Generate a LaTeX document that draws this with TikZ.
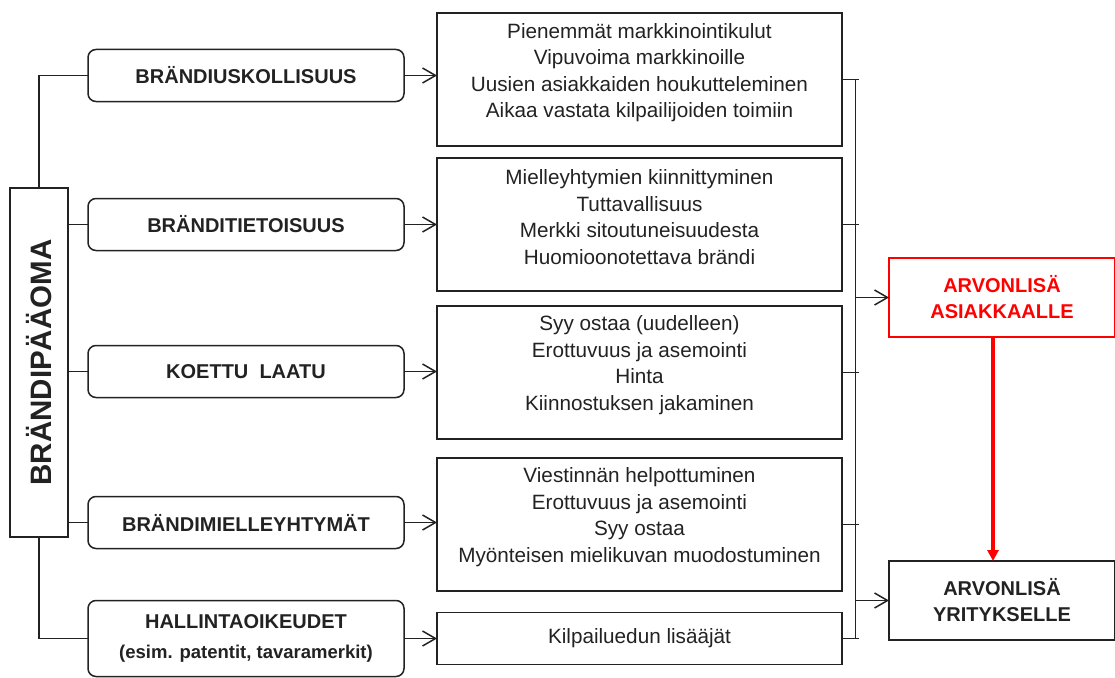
\documentclass[tikz,border=0pt]{standalone}
\usepackage{fontspec}
\setmainfont{Liberation Sans}
\usetikzlibrary{arrows.meta,calc}
\definecolor{ink}{HTML}{222222}
\definecolor{alert}{HTML}{FF0000}

\begin{document}
\begin{tikzpicture}[x=1pt,y=-1pt,
  every node/.style={inner sep=0pt, outer sep=0pt, text=ink},
  frame/.style={draw=ink, line width=1.5pt},
  conn/.style={draw=ink, line width=1.6pt},
  barb/.style={conn, -{Straight Barb[length=13pt,width=15pt,line width=1.5pt]}},
  driver/.style={frame, rounded corners=8pt, minimum width=316pt, minimum height=52pt,
    font=\fontsize{20}{26}\selectfont\bfseries, align=center},
  effect/.style={frame, minimum width=405pt, minimum height=133pt},
  effecttext/.style={font=\fontsize{20.7}{26.5}\selectfont, align=center},
  valuebox/.style={frame, minimum width=226pt, minimum height=79pt,
    font=\fontsize{20}{26}\selectfont\bfseries, align=center}
]
\useasboundingbox (0,0) rectangle (1115,677);

% brand equity column
\node[frame, minimum width=58pt, minimum height=349pt] (root) at (39,362.5) {};
\node[rotate=90, font=\fontsize{29.5}{30}\selectfont\bfseries] (rootlabel) at (root.center) {BRÄNDIPÄÄOMA};

% brand equity dimensions
\node[driver] (r1) at (246,75.5) {BRÄNDIUSKOLLISUUS};
\node[driver] (r2) at (246,224.5) {BRÄNDITIETOISUUS};
\node[driver] (r3) at (246,371.5) {KOETTU\ \ LAATU};
\node[driver] (r4) at (246,522.5) {BRÄNDIMIELLEYHTYMÄT};
\node[driver, minimum height=76pt] (r5) at (246,638.5) {HALLINTAOIKEUDET\\[4pt]{\fontsize{18.5}{20}\selectfont(esim. patentit, tavaramerkit)}};

% effects of each dimension
\node[effect] (t1) at (639.5,79.5) {};
\node[effecttext] (t1txt) at (639.5,72.5) {Pienemmät markkinointikulut\\Vipuvoima markkinoille\\Uusien asiakkaiden houkutteleminen\\Aikaa vastata kilpailijoiden toimiin};
\node[effect] (t2) at (639.5,224.5) {};
\node[effecttext] (t2txt) at (639.5,217) {Mielleyhtymien kiinnittyminen\\Tuttavallisuus\\Merkki sitoutuneisuudesta\\Huomioonotettava brändi};
\node[effect] (t3) at (639.5,372.5) {};
\node[effecttext] (t3txt) at (639.5,365) {Syy ostaa (uudelleen)\\Erottuvuus ja asemointi\\Hinta\\Kiinnostuksen jakaminen};
\node[effect] (t4) at (639.5,524.5) {};
\node[effecttext] (t4txt) at (639.5,517) {Viestinnän helpottuminen\\Erottuvuus ja asemointi\\Syy ostaa\\Myönteisen mielikuvan muodostuminen};
\node[effect, minimum height=52pt] (t5) at (639.5,638.5) {};
\node[effecttext] (t5txt) at (639.5,638.5) {Kilpailuedun lisääjät};

% value outcomes
\node[valuebox, draw=alert, line width=1.3pt, text=alert] (a1) at (1002,297.5) {ARVONLISÄ\\ASIAKKAALLE};
\node[valuebox] (a2) at (1002,600.5) {ARVONLISÄ\\YRITYKSELLE};

% spine from the brand equity column to the dimensions
\draw[conn] (r1.west) -| (root.north);
\draw[conn] (root.south) |- (r5.west);
\draw[conn] (root.east |- r2.west) -- (r2.west);
\draw[conn] (root.east |- r3.west) -- (r3.west);
\draw[conn] (root.east |- r4.west) -- (r4.west);

% dimensions to effects
\foreach \i in {1,...,5}
  \draw[barb] (r\i.east) -- (r\i.east -| t\i.west);

% collecting bus
\coordinate (busx) at (855.5,0);
\foreach \i in {1,...,5}
  \draw[conn] (t\i.east) -- ([xshift=3pt]t\i.east -| busx);
\draw[conn] (t1.east -| busx) -- (t5.east -| busx);
\draw[barb] (busx |- a1.west) -- (a1.west);
\draw[barb] (busx |- a2.west) -- (a2.west);

% customer value feeds company value
\draw[draw=alert, line width=3.2pt, -{Triangle[length=11pt,width=11pt]}]
  ([xshift=-9pt]a1.south) -- ([xshift=-9pt]a2.north);
\end{tikzpicture}
\end{document}
